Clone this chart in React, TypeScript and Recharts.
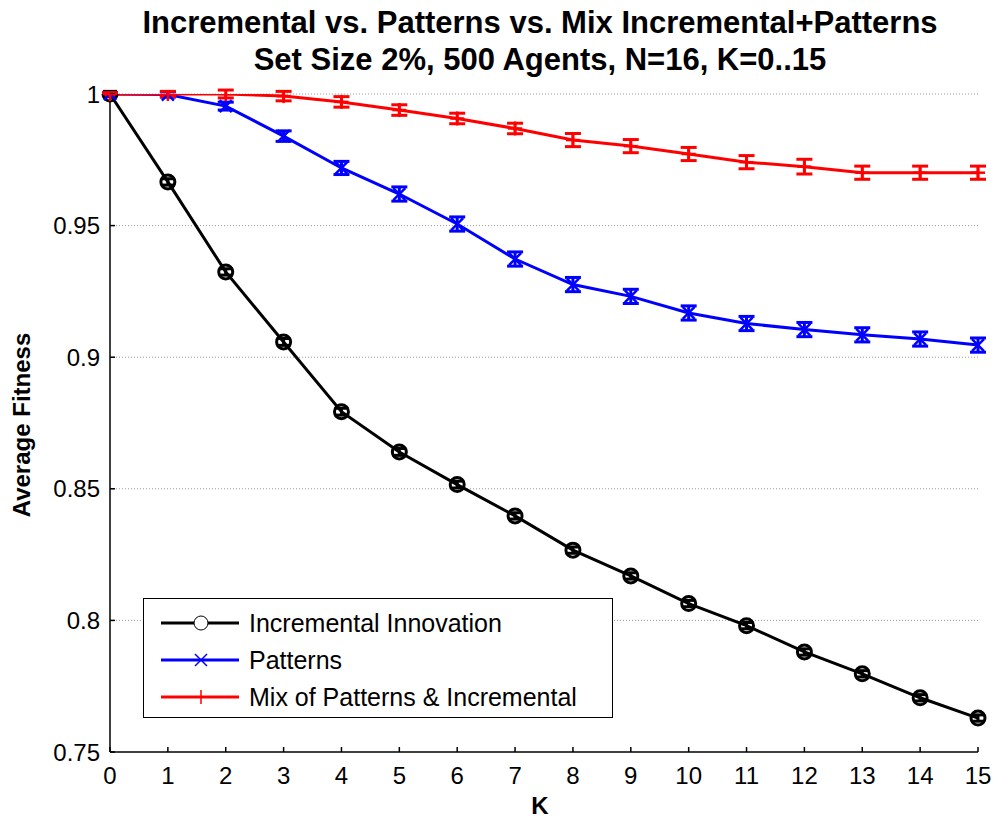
import { LineChart, Line, XAxis, YAxis, CartesianGrid, ErrorBar } from "recharts";

const kValues = [0, 1, 2, 3, 4, 5, 6, 7, 8, 9, 10, 11, 12, 13, 14, 15];
const incremental = [1.0, 0.9666, 0.9324, 0.9058, 0.8793, 0.864, 0.8516, 0.8397, 0.8267, 0.8169, 0.8064, 0.798, 0.788, 0.7797, 0.7706, 0.7629];
const incrementalErr = [0.001, 0.0012, 0.0012, 0.0013, 0.0013, 0.0013, 0.0013, 0.0012, 0.0012, 0.0012, 0.0012, 0.0012, 0.0012, 0.0012, 0.0012, 0.0012];
const patterns = [1.0, 0.9998, 0.9954, 0.984, 0.9719, 0.962, 0.9506, 0.9373, 0.9276, 0.9231, 0.9168, 0.9128, 0.9105, 0.9085, 0.9069, 0.9046];
const patternsErr = [0.0005, 0.001, 0.0015, 0.002, 0.0025, 0.0027, 0.0027, 0.0027, 0.0027, 0.0027, 0.0027, 0.0027, 0.0027, 0.0027, 0.0027, 0.0027];
const mix = [1.0, 1.0, 1.0, 0.9992, 0.997, 0.9939, 0.9907, 0.9869, 0.9825, 0.9802, 0.9772, 0.9741, 0.9724, 0.9701, 0.9701, 0.9701];
const mixErr = [0.0005, 0.001, 0.0015, 0.0018, 0.002, 0.002, 0.002, 0.002, 0.0025, 0.0025, 0.0025, 0.0025, 0.0028, 0.0025, 0.0025, 0.0025];
const yTicks = [0.75, 0.8, 0.85, 0.9, 0.95, 1];

const data = kValues.map((k, i) => ({
  k,
  inc: incremental[i],
  incErr: incrementalErr[i],
  pat: patterns[i],
  patErr: patternsErr[i],
  mix: mix[i],
  mixErr: mixErr[i],
}));

const font = "'Liberation Sans', Arial, sans-serif";

const CircleDot = (props: any) => {
  const { cx, cy } = props;
  return <circle cx={cx} cy={cy} r={7} fill="none" stroke="#000" strokeWidth={3} />;
};

const CrossDot = (props: any) => {
  const { cx, cy } = props;
  const s = 6;
  return (
    <g stroke="#0000ff" strokeWidth={2.5}>
      <line x1={cx - s} y1={cy - s} x2={cx + s} y2={cy + s} />
      <line x1={cx - s} y1={cy + s} x2={cx + s} y2={cy - s} />
    </g>
  );
};

const PlusDot = (props: any) => {
  const { cx, cy } = props;
  const s = 7;
  return (
    <g stroke="#ff0000" strokeWidth={2.5}>
      <line x1={cx - s} y1={cy} x2={cx + s} y2={cy} />
      <line x1={cx} y1={cy - s} x2={cx} y2={cy + s} />
    </g>
  );
};

const legendItems = [
  { name: "Incremental Innovation", color: "#000000", marker: "o" },
  { name: "Patterns", color: "#0000ff", marker: "x" },
  { name: "Mix of Patterns & Incremental", color: "#ff0000", marker: "+" },
];

function LegendBox() {
  return (
    <div
      style={{
        position: "absolute",
        left: 143,
        top: 598,
        width: 470,
        height: 120,
        border: "1.5px solid #000",
        background: "#fff",
        boxSizing: "border-box",
      }}
    >
      <svg width={470} height={120} style={{ position: "absolute", left: 0, top: 0 }}>
        {legendItems.map((it, i) => {
          const y = 24 + i * 37;
          return (
            <g key={it.name}>
              <line x1={17} x2={95} y1={y} y2={y} stroke={it.color} strokeWidth={3} />
              {it.marker === "o" && <circle cx={57} cy={y} r={7} fill="#fff" stroke="#000" strokeWidth={1} />}
              {it.marker === "x" && (
                <g stroke={it.color} strokeWidth={1.5}>
                  <line x1={51} y1={y - 6} x2={63} y2={y + 6} />
                  <line x1={51} y1={y + 6} x2={63} y2={y - 6} />
                </g>
              )}
              {it.marker === "+" && (
                <g stroke={it.color} strokeWidth={1.5}>
                  <line x1={57} y1={y - 7} x2={57} y2={y + 7} />
                </g>
              )}
              <text x={105} y={y + 9} fontFamily={font} fontSize={25} fill="#000">
                {it.name}
              </text>
            </g>
          );
        })}
      </svg>
    </div>
  );
}

export default function App() {
  return (
    <div style={{ position: "absolute", left: 0, top: 0, width: 994, height: 821, background: "#fff", fontFamily: font }}>
      <div
        style={{
          position: "absolute",
          left: 100,
          width: 880,
          top: 4,
          textAlign: "center",
          fontWeight: "bold",
          fontSize: 31,
          lineHeight: "37px",
          color: "#000",
          whiteSpace: "nowrap",
        }}
      >
        <div>Incremental vs. Patterns vs. Mix Incremental+Patterns</div>
        <div>Set Size 2%, 500 Agents, N=16, K=0..15</div>
      </div>
      <LineChart
        width={994}
        height={821}
        data={data}
        margin={{ top: 94, left: 30, right: 16, bottom: 9 }}
      >
        <CartesianGrid vertical={false} stroke="#9a9a9a" strokeDasharray="1 2" horizontalValues={[0.8, 0.85, 0.9, 0.95, 1]} />
        <XAxis
          dataKey="k"
          type="number"
          domain={[0, 15]}
          ticks={kValues}
          height={60}
          axisLine={{ stroke: "#000", strokeWidth: 1.5 }}
          tickLine={{ stroke: "#000", strokeWidth: 1.5 }}
          tickSize={-5}
          tickMargin={20}
          tick={{ fontFamily: font, fontSize: 24, fill: "#000" }}
        />
        <YAxis
          type="number"
          domain={[0.75, 1]}
          ticks={yTicks}
          width={80}
          allowDataOverflow
          axisLine={{ stroke: "#000", strokeWidth: 1.5 }}
          tickLine={{ stroke: "#000", strokeWidth: 1.5 }}
          tickSize={-5}
          tickMargin={15}
          tick={{ fontFamily: font, fontSize: 24, fill: "#000" }}
        />
        <Line dataKey="inc" stroke="#000" strokeWidth={3} dot={<CircleDot />} isAnimationActive={false}>
          <ErrorBar dataKey="incErr" width={7} stroke="#000" strokeWidth={3} direction="y" />
        </Line>
        <Line dataKey="pat" stroke="#0000ff" strokeWidth={3} dot={<CrossDot />} isAnimationActive={false}>
          <ErrorBar dataKey="patErr" width={8} stroke="#0000ff" strokeWidth={3} direction="y" />
        </Line>
        <Line dataKey="mix" stroke="#ff0000" strokeWidth={3} dot={<PlusDot />} isAnimationActive={false}>
          <ErrorBar dataKey="mixErr" width={8} stroke="#ff0000" strokeWidth={3} direction="y" />
        </Line>
      </LineChart>
      <div
        style={{
          position: "absolute",
          left: 22,
          top: 425,
          transform: "translate(-50%, -50%) rotate(-90deg)",
          fontWeight: "bold",
          fontSize: 24,
          whiteSpace: "nowrap",
        }}
      >
        Average Fitness
      </div>
      <div
        style={{
          position: "absolute",
          left: 100,
          width: 880,
          top: 794,
          textAlign: "center",
          fontWeight: "bold",
          fontSize: 24,
          lineHeight: "24px",
        }}
      >
        K
      </div>
      <LegendBox />
    </div>
  );
}
